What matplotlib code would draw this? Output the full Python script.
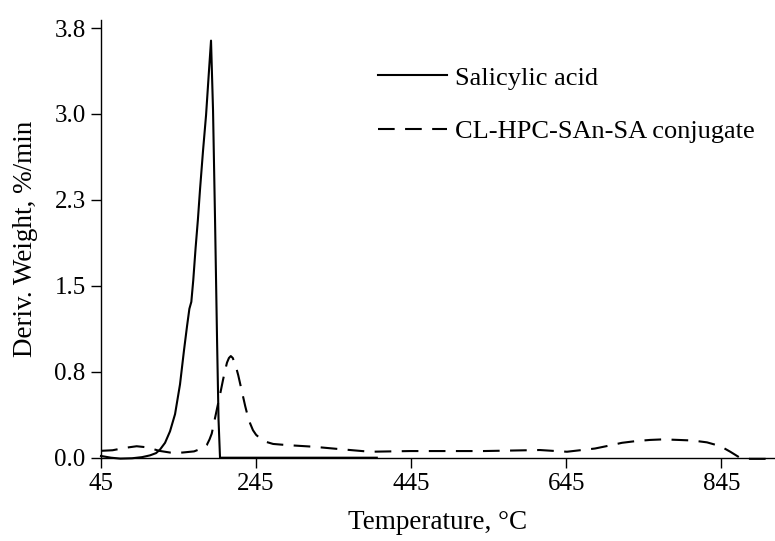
import matplotlib
matplotlib.use("Agg")
import matplotlib.pyplot as plt

plt.rcParams['font.family'] = ['Liberation Serif', 'DejaVu Serif']

# Salicylic acid DTG curve
sa_temp = [45, 58, 70, 85, 98, 108, 116, 121, 127.6, 134, 140.5, 146.9, 152.1, 156,
           159, 161.5, 164, 167, 170, 172.7, 176.6, 180.5, 184.3, 186.9, 189.5,
           192.1, 194.7, 196.6, 198.5, 250, 320, 400.7]
sa_val = [0.015, 0.0, -0.008, -0.005, 0.005, 0.02, 0.04, 0.07, 0.13, 0.23, 0.38, 0.64,
          0.94, 1.15, 1.30, 1.36, 1.55, 1.83, 2.08, 2.34, 2.68, 2.99, 3.38, 3.64, 3.03,
          2.07, 1.02, 0.33, 0.0, 0.0, 0.0, 0.0]

# CL-HPC-SAn-SA conjugate DTG curve
cj_temp = [45, 60, 75, 91, 105, 120, 134, 150, 165, 176.6, 181.4, 185, 187.8, 190,
           192.5, 195, 197.6, 200, 202.4, 205, 207.5, 210, 212.4, 215, 217.5, 220,
           222, 225, 228, 231, 234, 237.3, 241, 245, 250, 257, 267, 285, 318.5, 356,
           392, 444, 538, 611, 646, 682, 700, 717, 735, 753, 770, 790, 808, 826.5,
           839, 848, 856.6, 869, 882, 905.6]
cj_val = [0.06, 0.065, 0.085, 0.10, 0.09, 0.06, 0.045, 0.045, 0.055, 0.085, 0.11,
          0.16, 0.21, 0.28, 0.36, 0.44, 0.52, 0.60, 0.68, 0.76, 0.83, 0.87, 0.887,
          0.87, 0.82, 0.77, 0.72, 0.63, 0.54, 0.45, 0.37, 0.30, 0.24, 0.20, 0.17, 0.14,
          0.12, 0.11, 0.096, 0.073, 0.052, 0.058, 0.058, 0.067, 0.052, 0.08, 0.105,
          0.13, 0.145, 0.155, 0.16, 0.155, 0.15, 0.134, 0.11, 0.085, 0.052, 0.0,
          -0.01, -0.01]

yticks = [0, 0.75, 1.5, 2.25, 3.0, 3.75]
ytick_labels = ["0.0", "0.8", "1.5", "2.3", "3.0", "3.8"]
xticks = [45, 245, 445, 645, 845]
xtick_labels = ["45", "245", "445", "645", "845"]

fig = plt.figure(figsize=(7.75, 5.41), dpi=100)
ax = fig.add_axes([101/775, (541-457.7)/541, 673/775, (457.7-20)/541])

ax.plot(sa_temp, sa_val, color='black', lw=1.5, label='Salicylic acid',
        clip_on=False, solid_joinstyle='round')
ax.plot(cj_temp, cj_val, color='black', lw=1.5, dashes=(8, 5),
        label='CL-HPC-SAn-SA conjugate', clip_on=False)

ax.set_xlim(45, 913)
ax.set_ylim(0, 3.82)
ax.set_xticks(xticks)
ax.set_xticklabels(xtick_labels)
ax.set_yticks(yticks)
ax.set_yticklabels(ytick_labels)
ax.tick_params(axis='both', direction='out', length=7, width=1, labelsize=18, pad=4)
for s in ['top', 'right']:
    ax.spines[s].set_visible(False)
for s in ['left', 'bottom']:
    ax.spines[s].set_linewidth(1)

ax.set_xlabel('Temperature, °C', fontsize=19.5, labelpad=11)
ax.set_ylabel('Deriv. Weight, %/min', fontsize=19.5, labelpad=12)

leg = ax.legend(loc='upper left', bbox_to_anchor=(0.377, 0.9486), frameon=False,
                fontsize=19, handlelength=2.6, handletextpad=0.3, labelspacing=1.13)

fig.savefig('out.png', dpi=100)
